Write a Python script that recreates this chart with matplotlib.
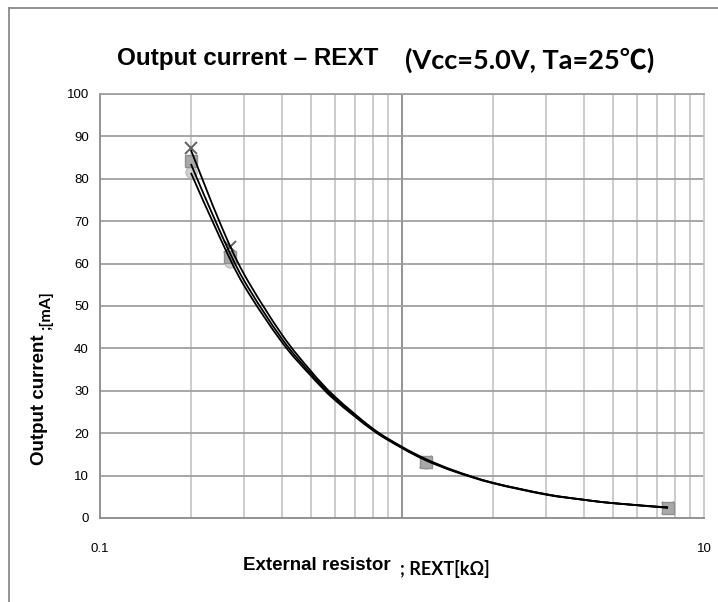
import numpy as np
import matplotlib
matplotlib.use("Agg")
import matplotlib.pyplot as plt
from matplotlib.path import Path
from matplotlib.patches import PathPatch
from matplotlib.lines import Line2D

# ---- data ----
# measured curves (three samples)
rext_curve = [0.2, 0.25, 0.3, 0.4, 0.5, 0.6, 0.8, 1.0, 1.2, 1.5, 2.0, 3.0, 4.0, 5.0, 7.6]
curve_a = [86.8, 69.5, 57.5, 43.3, 34.6, 28.6, 21.1, 16.8, 13.9, 11.1, 8.3, 5.6, 4.3, 3.5, 2.5]
curve_b = [83.5, 67.5, 56.0, 42.3, 34.0, 28.2, 20.9, 16.6, 13.7, 11.0, 8.3, 5.6, 4.3, 3.5, 2.45]
curve_c = [81.4, 66.0, 54.8, 41.5, 33.5, 27.8, 20.7, 16.5, 13.6, 10.9, 8.2, 5.5, 4.3, 3.5, 2.4]
# marker points
rext_kohm = [0.2, 0.27, 1.2, 7.6]
current_a = [87.3, 63.8, 13.1, 2.45]    # x markers
current_b = [84.3, 61.5, 13.1, 2.45]    # square markers
current_c = [81.5, 60.3, 12.9, 2.4]     # circle markers
x_ticks = [0.1, 10]
x_tick_labels = ["0.1", "10"]
y_ticks = [0, 10, 20, 30, 40, 50, 60, 70, 80, 90, 100]

W, H = 718, 602
fig = plt.figure(figsize=(W / 100, H / 100), dpi=100)
ax = fig.add_axes([100 / W, 1 - 518 / H, 604 / W, 424 / H])
ax.set_xscale("log")
ax.set_xlim(0.1, 10)
ax.set_ylim(0, 100)

# grid
for v in [0.2, 0.3, 0.4, 0.5, 0.6, 0.7, 0.8, 0.9, 2, 3, 4, 5, 6, 7, 8, 9]:
    ax.axvline(v, color="#c8c8c8", lw=1.3, zorder=0)
ax.axvline(1, color="#8a8a8a", lw=1.3, zorder=0)
for v in y_ticks[1:]:
    ax.axhline(v, color="#a0a0a0", lw=1.3, zorder=0)
for s in ax.spines.values():
    s.set_color("#8a8a8a")
    s.set_linewidth(1.3)
ax.spines["top"].set_color("#a0a0a0")
ax.spines["right"].set_color("#c8c8c8")

ax.set_xticks(x_ticks)
ax.set_xticklabels(x_tick_labels)
ax.xaxis.set_minor_locator(matplotlib.ticker.NullLocator())
ax.set_yticks(y_ticks)
ax.tick_params(length=0, labelsize=9.5, colors="black")
ax.tick_params(axis="x", pad=18)
ax.tick_params(axis="y", pad=8)
for lbl in ax.get_xticklabels() + ax.get_yticklabels():
    lbl.set_fontfamily("Liberation Sans")


def smooth_path(xs, ys):
    # Excel-style smoothed line: cubic Bezier in (log x, y) space
    lx = np.log10(xs)
    pts = np.column_stack([lx, ys])
    n = len(pts)
    verts = [pts[0]]
    codes = [Path.MOVETO]
    for i in range(n - 1):
        p0 = pts[i - 1] if i > 0 else pts[i]
        p1 = pts[i]
        p2 = pts[i + 1]
        p3 = pts[i + 2] if i + 2 < n else pts[i + 1]
        c1 = p1 + (p2 - p0) / 6.0
        c2 = p2 - (p3 - p1) / 6.0
        verts += [c1, c2, p2]
        codes += [Path.CURVE4] * 3
    verts = np.array(verts)
    verts[:, 0] = 10 ** verts[:, 0]
    return Path(verts, codes)


# markers
ax.plot(rext_kohm, current_a, ls="none", marker="x", ms=8, mew=1.4,
        color="#606060", zorder=2)
ax.plot(rext_kohm, current_c, ls="none", marker="o", ms=8, mfc="#d0d0d0",
        mec="#c0c0c0", zorder=3)
ax.plot(rext_kohm, current_b, ls="none", marker="s", ms=8, mfc="#a8a8a8",
        mec="#909090", zorder=3)

for ys in (curve_a, curve_b, curve_c):
    ax.add_patch(PathPatch(smooth_path(rext_curve, ys), fill=False,
                           edgecolor="black", lw=1.3, zorder=4,
                           transform=ax.transData))

# titles
fig.text(117 / W, 1 - 58 / H, "Output current \u2013 REXT", ha="left", va="center",
         fontsize=17.5, fontweight="bold", family="Liberation Sans")
fig.text(405 / W, 1 - 60 / H, "(Vcc=5.0V, Ta=25\u2103)", ha="left", va="center",
         fontsize=19.5, fontweight="bold", family=["Lato", "Noto Sans CJK JP"])

# x label
fig.text(243 / W, 1 - 565 / H, "External resistor", ha="left", va="center",
         fontsize=13.5, fontweight="bold", family="Liberation Sans")
fig.text(400 / W, 1 - 569 / H, "; REXT[k\u03a9]", ha="left", va="center",
         fontsize=13, fontweight="bold", family="Lato")

# y label
fig.text(40 / W, 1 - 465 / H, "Output current", ha="center", va="bottom",
         rotation=90, fontsize=13.5, fontweight="bold", family="Liberation Sans")
fig.text(46 / W, 1 - 330 / H, ";[mA]", ha="center", va="bottom",
         rotation=90, fontsize=11.5, fontweight="bold", family="Lato")

# chart border (top and left visible)
fig.add_artist(Line2D([9 / W, 1], [1 - 7.5 / H, 1 - 7.5 / H], color="#8a8a8a",
                      lw=1.3, transform=fig.transFigure))
fig.add_artist(Line2D([9 / W, 9 / W], [0, 1 - 7.5 / H], color="#8a8a8a",
                      lw=1.3, transform=fig.transFigure))

fig.savefig("out.png", dpi=100)
